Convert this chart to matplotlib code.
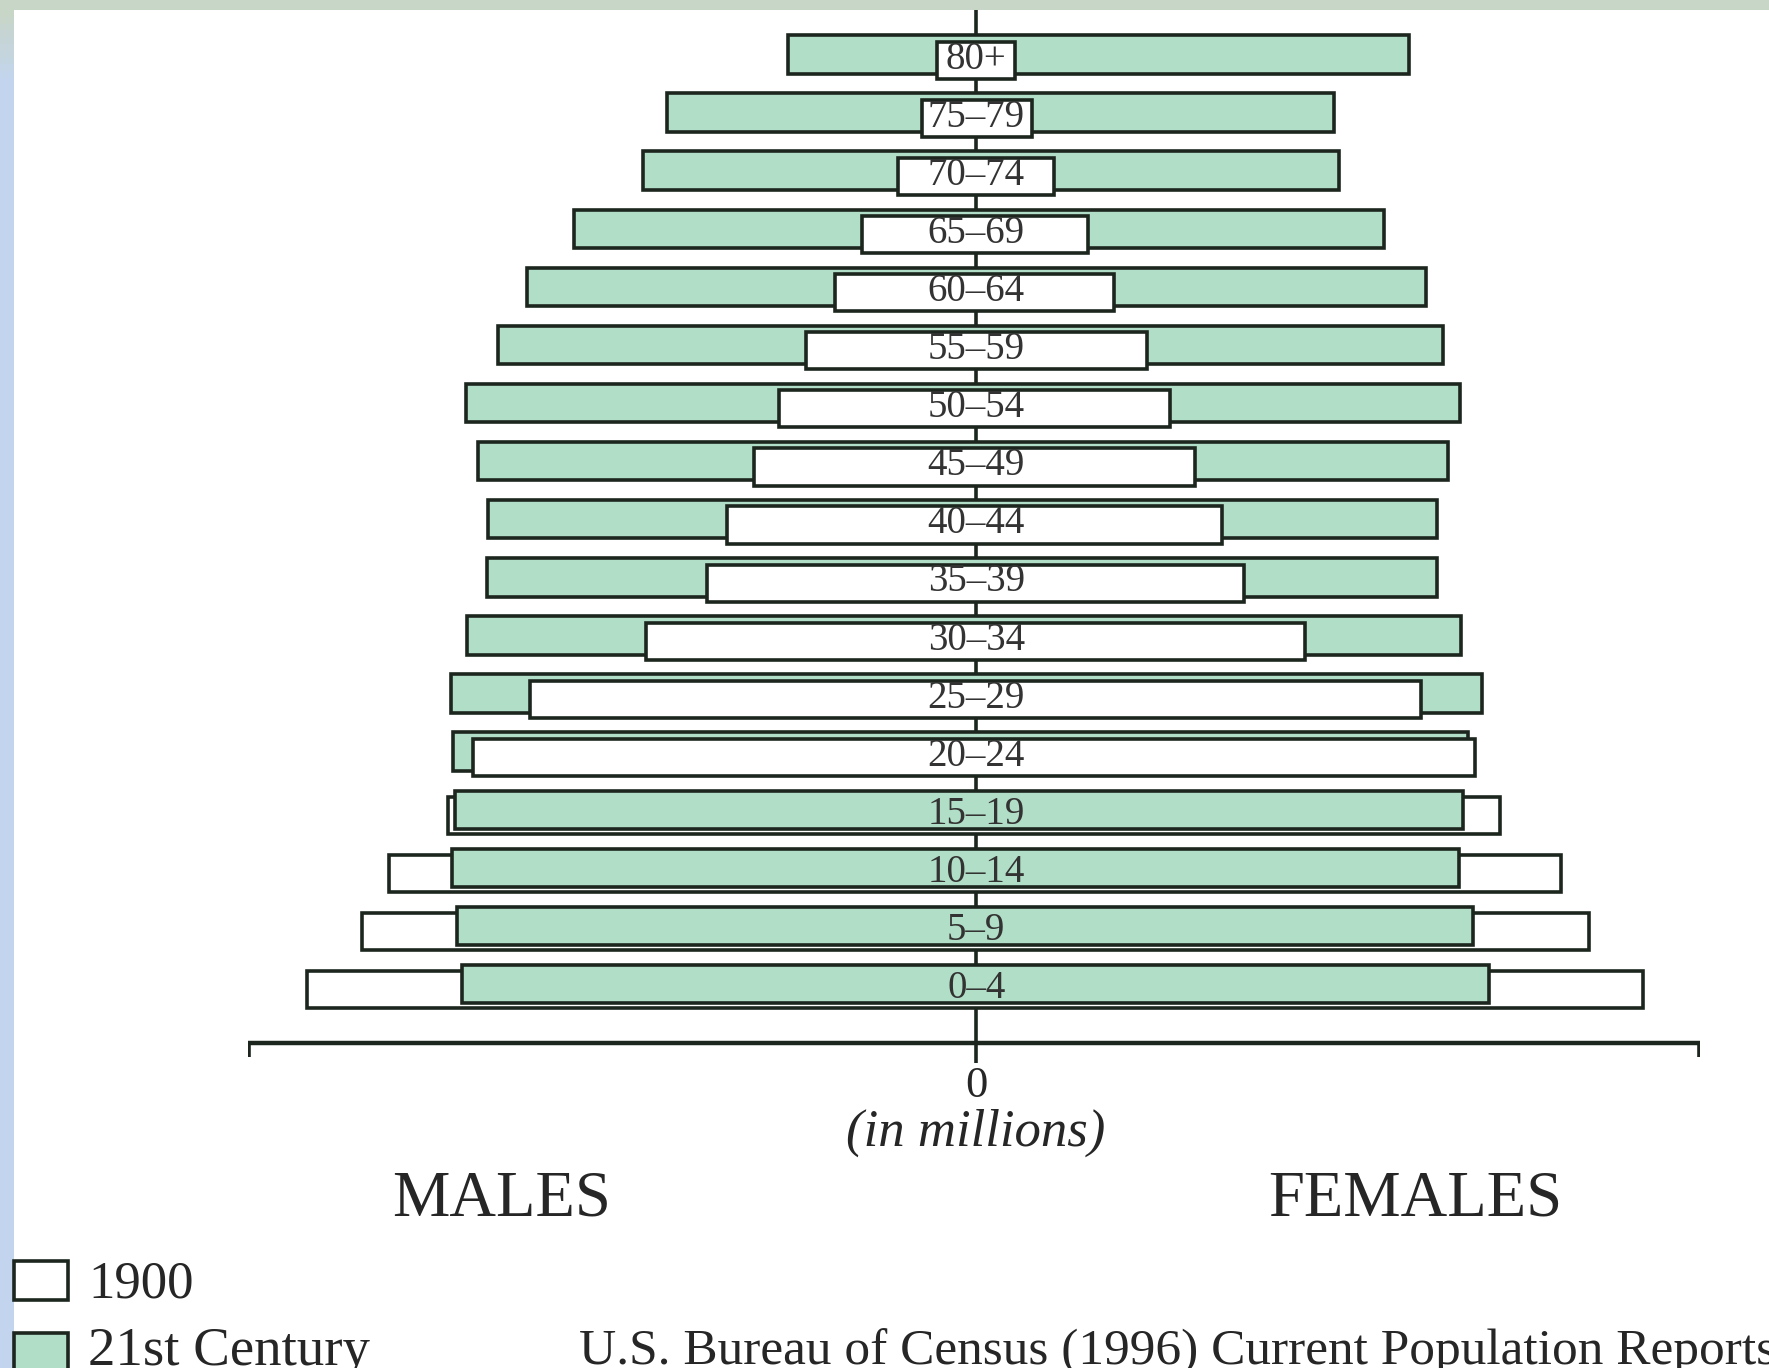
import matplotlib
matplotlib.use("Agg")
import matplotlib.pyplot as plt
import numpy as np
from matplotlib.patches import Rectangle

plt.rcParams['font.family'] = ['Liberation Serif', 'DejaVu Serif']

# ---- data (millions), bottom row first ----
age_groups = ['0–4', '5–9', '10–14', '15–19', '20–24', '25–29', '30–34', '35–39',
              '40–44', '45–49', '50–54', '55–59', '60–64', '65–69', '70–74', '75–79', '80+']
males_1900 = [12.91, 11.85, 11.32, 10.19, 9.71, 8.60, 6.36, 5.19,
              4.81, 4.28, 3.80, 3.29, 2.72, 2.20, 1.51, 1.05, 0.76]
females_1900 = [12.86, 11.82, 11.28, 10.09, 9.62, 8.57, 6.34, 5.17,
                4.73, 4.22, 3.74, 3.29, 2.66, 2.15, 1.50, 1.07, 0.75]
males_21c = [9.91, 10.02, 10.11, 10.05, 10.09, 10.12, 9.82, 9.44,
             9.42, 9.61, 9.84, 9.22, 8.66, 7.76, 6.43, 5.96, 3.63]
females_21c = [9.89, 9.58, 9.30, 9.38, 9.49, 9.76, 9.34, 8.88,
               8.88, 9.09, 9.32, 9.00, 8.67, 7.87, 6.99, 6.89, 8.34]
legend_labels = ['1900', '21st Century']
side_labels = ['MALES', 'FEMALES']
axis_label = '(in millions)'
source_text = 'U.S. Bureau of Census (1996) Current Population Reports'

W, H = 1769, 1368
GREEN = '#b1dec6'
EDGE = '#1c261f'
TXT = '#262626'

fig = plt.figure(figsize=(W / 100, H / 100), dpi=100)
fig.patch.set_facecolor('white')

def fx(px):
    return px / W

def fy(py):
    return 1 - py / H

# plot axes
ax = fig.add_axes([fx(248.2), fy(1071.2), fx(1700.2) - fx(248.2), fy(0.4) - fy(1071.2)])
ax.set_xlim(-14.04, 13.96)
ax.set_ylim(-1.5, 16.93)
ax.axis('off')

y = np.arange(len(age_groups))
m00 = np.array(males_1900); f00 = np.array(females_1900)
m21 = np.array(males_21c); f21 = np.array(females_21c)

# center line and axis
ax.vlines(0, -1.36, 16.93, color=EDGE, lw=2.6, zorder=1)
axis_y = -1.015
x0, x1 = ax.get_xlim()
ax.hlines(axis_y, x0, x1, color=EDGE, lw=3.2, zorder=1)
ax.vlines([x0 + 0.02, x1 - 0.02], axis_y - 0.24, axis_y, color=EDGE, lw=2.6, zorder=1)

bars21 = ax.barh(y, m21 + f21, left=-m21, height=0.66, color=GREEN,
                 edgecolor=EDGE, linewidth=2.6)
bars00 = ax.barh(y - 0.1, m00 + f00, left=-m00, height=0.64, color='white',
                 edgecolor=EDGE, linewidth=2.6)
for i in range(len(y)):
    if (m21[i] + f21[i]) >= (m00[i] + f00[i]):
        bars21[i].set_zorder(2); bars00[i].set_zorder(3)
    else:
        bars00[i].set_zorder(2); bars21[i].set_zorder(3)

for i, lab in enumerate(age_groups):
    ax.text(0, i - 0.08, lab, ha='center', va='center', fontsize=28,
            color='#333333', zorder=5)

# axis texts
fig.text(fx(976), fy(1086), '0', ha='center', va='center', fontsize=32, color=TXT)
fig.text(fx(976), fy(1133), axis_label, ha='center', va='center', fontsize=38,
         style='italic', color=TXT)
fig.text(fx(502), fy(1200), side_labels[0], ha='center', va='center', fontsize=46.5, color=TXT)
fig.text(fx(1415), fy(1200), side_labels[1], ha='center', va='center', fontsize=46.5, color=TXT)

# legend
fig.patches.append(Rectangle((fx(14), fy(1300)), fx(54), 39 / H, transform=fig.transFigure,
                             facecolor='white', edgecolor=EDGE, lw=2.6))
fig.patches.append(Rectangle((fx(14), fy(1372)), fx(54), 39 / H, transform=fig.transFigure,
                             facecolor=GREEN, edgecolor=EDGE, lw=2.6))
fig.text(fx(88), fy(1285), legend_labels[0], ha='left', va='center', fontsize=38, color=TXT)
fig.text(fx(88), fy(1352), legend_labels[1], ha='left', va='center', fontsize=39.5, color=TXT)
fig.text(fx(579), fy(1352), source_text, ha='left', va='center', fontsize=37, color=TXT)

# decorative frame bands
fig.patches.append(Rectangle((0, fy(10)), 1, 10 / H, transform=fig.transFigure,
                             facecolor='#c8d6c8', edgecolor='none', zorder=10))
band = fig.add_axes([0, 0, fx(13), fy(10)])
grad = np.zeros((200, 1, 3))
top = np.array([200, 214, 200]) / 255
blue = np.array([195, 213, 238]) / 255
t = np.clip(np.linspace(0, 1, 200) / 0.05, 0, 1)[:, None]
grad[:, 0, :] = top * (1 - t) + blue * t
band.imshow(grad, aspect='auto', extent=[0, 1, 0, 1], origin='upper')
band.axis('off')

fig.savefig('out.png', dpi=100)
